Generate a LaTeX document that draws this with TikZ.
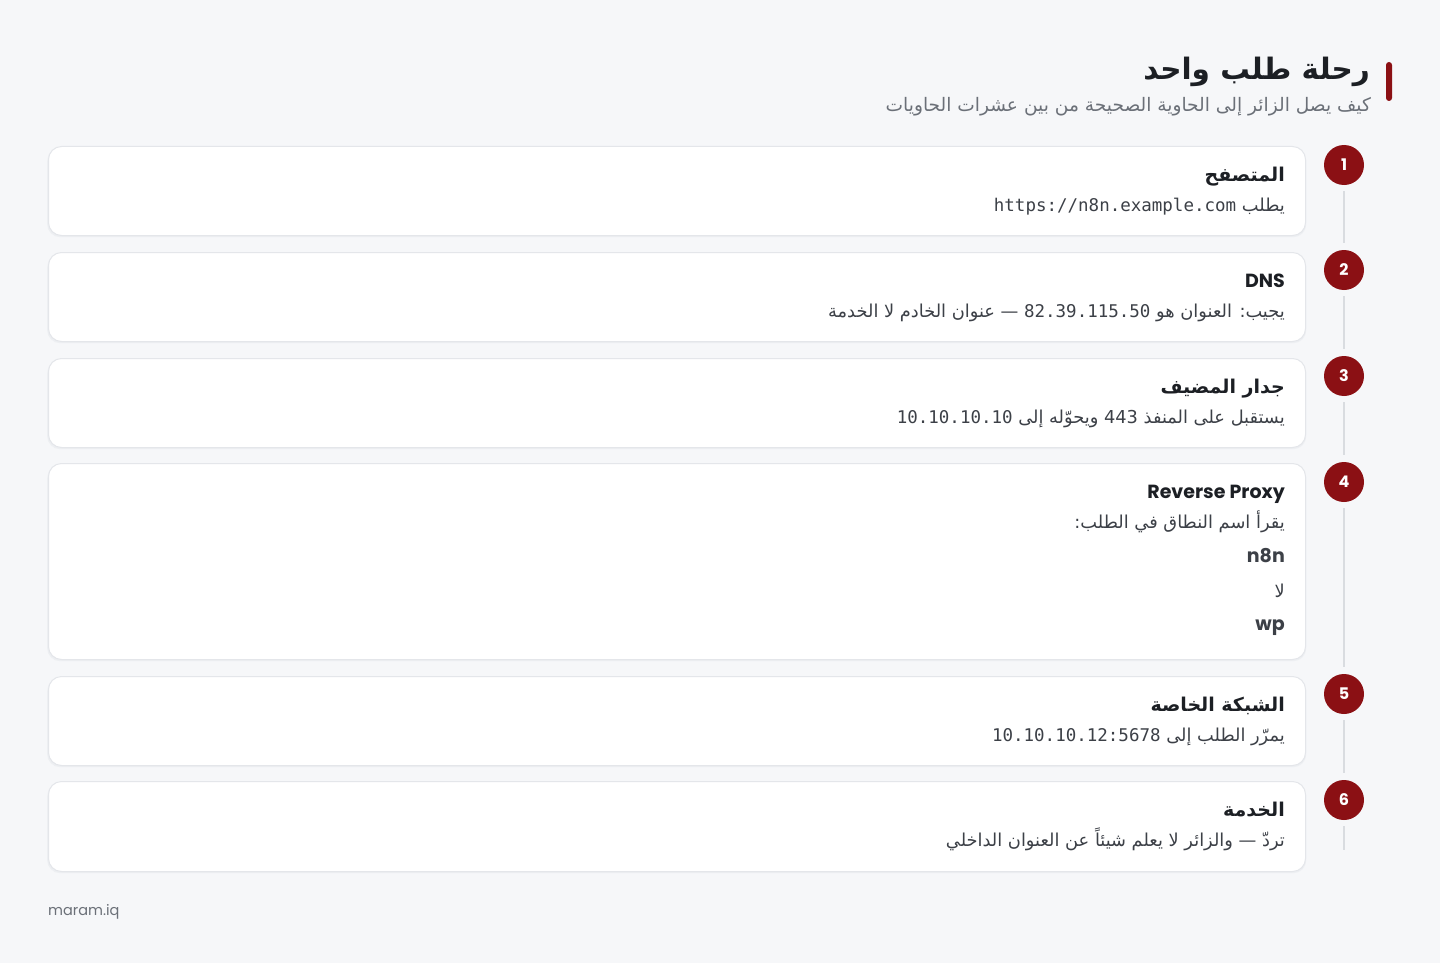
\documentclass[tikz,border=0pt]{standalone}
\usepackage{fontspec}
\TeXXeTstate=1
\newfontfamily\arfont[Script=Arabic]{DejaVu Sans}
\newfontfamily\latfont{Poppins}
\newfontfamily\monofont{DejaVu Sans Mono}
\definecolor{bgc}{HTML}{F6F7F9}
\definecolor{cardborder}{HTML}{E4E6EA}
\definecolor{cardshadow}{HTML}{EDEFF2}
\definecolor{accent}{HTML}{8B1014}
\definecolor{ink}{HTML}{1C1F24}
\definecolor{bodyc}{HTML}{3C4047}
\definecolor{subc}{HTML}{6B7078}
\definecolor{linec}{HTML}{D9DCE0}
\tikzset{
  card/.style={draw=cardborder, line width=1pt, fill=white, rounded corners=13pt, minimum width=1257pt, anchor=north west, inner sep=0pt},
  shadowcard/.style={fill=cardshadow, rounded corners=13pt, minimum width=1259pt, anchor=north west, inner sep=0pt},
  stepnum/.style={circle, fill=accent, minimum size=40pt, inner sep=0pt, text=white, font=\latfont\bfseries\fontsize{16}{18}\selectfont},
  steplink/.style={draw=linec, line width=2pt},
  ctitle/.style={anchor=base east, inner sep=0pt, text=ink, font=\arfont\bfseries\fontsize{19}{22}\selectfont},
  ltitle/.style={anchor=base east, inner sep=0pt, text=ink, font=\latfont\bfseries\fontsize{19}{22}\selectfont},
  cbody/.style={anchor=base east, inner sep=0pt, text=bodyc, font=\arfont\fontsize{17.8}{20}\selectfont},
  lbody/.style={anchor=base east, inner sep=0pt, text=bodyc, font=\latfont\bfseries\fontsize{19}{22}\selectfont},
}
\newcommand{\mn}[1]{\beginL{\monofont\fontsize{17.5}{20}\selectfont #1}\endL{}}
\begin{document}
\begin{tikzpicture}[x=1pt,y=-1pt]
\fill[bgc] (0,0) rectangle (1440,963);
\useasboundingbox (0,0) rectangle (1440,963);
% header
\fill[accent, rounded corners=3pt] (1386,62) rectangle (1392,101);
\node[anchor=base east, inner sep=0pt, text=ink, font=\arfont\bfseries\fontsize{29.5}{34}\selectfont] (title) at (1370,80) {\beginR رحلة طلب واحد\endR};
\node[anchor=base east, inner sep=0pt, text=subc, font=\arfont\fontsize{18.6}{21}\selectfont] (subtitle) at (1371,112) {\beginR كيف يصل الزائر إلى الحاوية الصحيحة من بين عشرات الحاويات\endR};
% shadows
\foreach \t/\h in {146/89, 252/89, 358/89, 463/196, 676/89, 781/90} {
  \node[shadowcard, minimum height=\h pt] at (47,\t+2) {};
}
% cards
\node[card, minimum height=89pt] (c1) at (48,146) {};
\node[card, minimum height=89pt] (c2) at (48,252) {};
\node[card, minimum height=89pt] (c3) at (48,358) {};
\node[card, minimum height=196pt] (c4) at (48,463) {};
\node[card, minimum height=89pt] (c5) at (48,676) {};
\node[card, minimum height=90pt] (c6) at (48,781) {};
% step circles
\node[stepnum] (n1) at (1344,165) {1};
\node[stepnum] (n2) at (1344,270) {2};
\node[stepnum] (n3) at (1344,376) {3};
\node[stepnum] (n4) at (1344,482) {4};
\node[stepnum] (n5) at (1344,694) {5};
\node[stepnum] (n6) at (1344,800) {6};
\coordinate (end6) at (1344,850);
\draw[steplink] ([yshift=-6pt]n1.south) -- ([yshift=7pt]n2.north);
\draw[steplink] ([yshift=-6pt]n2.south) -- ([yshift=7pt]n3.north);
\draw[steplink] ([yshift=-6pt]n3.south) -- ([yshift=7pt]n4.north);
\draw[steplink] ([yshift=-6pt]n4.south) -- ([yshift=7pt]n5.north);
\draw[steplink] ([yshift=-6pt]n5.south) -- ([yshift=7pt]n6.north);
\draw[steplink] ([yshift=-6pt]n6.south) -- (end6);
% card 1
\node[ctitle] (t1) at (1285,181) {\beginR المتصفح\endR};
\node[cbody] (b1) at (1285,211) {\beginR يطلب \mn{https://n8n.example.com}\endR};
% card 2
\node[ltitle] (t2) at (1285,287) {DNS};
\node[cbody] (b2) at (1285,317) {\beginR يجيب: العنوان هو \mn{82.39.115.50} — عنوان الخادم لا الخدمة\endR};
% card 3
\node[ctitle] (t3) at (1285,393) {\beginR جدار المضيف\endR};
\node[cbody] (b3) at (1285,423) {\beginR يستقبل على المنفذ \beginL 443\endL{} ويحوّله إلى \mn{10.10.10.10}\endR};
% card 4
\node[ltitle] (t4) at (1285,498) {Reverse Proxy};
\node[cbody] (b4) at (1285,528) {\beginR يقرأ اسم النطاق في الطلب:\endR};
\node[lbody] (b4a) at (1285,562) {n8n};
\node[cbody] (b4b) at (1285,597) {\beginR لا\endR};
\node[lbody] (b4c) at (1285,630) {wp};
% card 5
\node[ctitle] (t5) at (1285,711) {\beginR الشبكة الخاصة\endR};
\node[cbody] (b5) at (1285,741) {\beginR يمرّر الطلب إلى \mn{10.10.10.12:5678}\endR};
% card 6
\node[ctitle] (t6) at (1285,816) {\beginR الخدمة\endR};
\node[cbody] (b6) at (1285,846) {\beginR تردّ — والزائر لا يعلم شيئاً عن العنوان الداخلي\endR};
% footer
\node[anchor=base west, inner sep=0pt, text=subc, font=\latfont\fontsize{14.5}{17}\selectfont] (footer) at (48,915) {maram.iq};
\end{tikzpicture}
\end{document}
